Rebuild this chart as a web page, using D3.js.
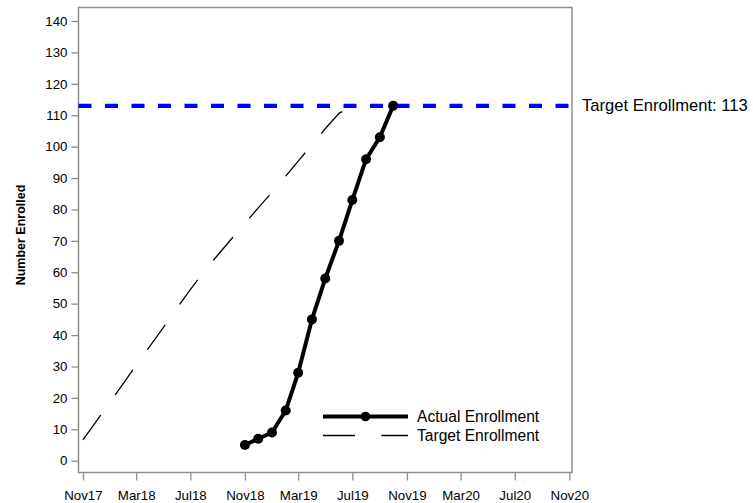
<!DOCTYPE html>
<html>
<head>
<meta charset="utf-8">
<script src="https://cdn.jsdelivr.net/npm/d3@7"></script>
<style>
  html, body { margin: 0; padding: 0; background: #fff; }
  svg { display: block; font-family: "Liberation Sans", Arial, sans-serif; }
</style>
</head>
<body>
<svg id="chart" width="753" height="503"></svg>
<script>
// ---- data ----
const actualDates = ["2018-11-01","2018-12-01","2019-01-01","2019-02-01","2019-03-01","2019-04-01",
                     "2019-05-01","2019-06-01","2019-07-01","2019-08-01","2019-09-01","2019-10-01"];
const actualValues = [5, 7, 9, 16, 28, 45, 58, 70, 83, 96, 103, 113];

const targetDates = ["2017-11-01","2017-12-01","2018-01-01","2018-02-01","2018-03-01","2018-04-01",
                     "2018-05-01","2018-06-01","2018-07-01","2018-08-01","2018-09-01","2018-10-01",
                     "2018-11-01","2018-12-01","2019-01-01","2019-02-01","2019-03-01","2019-04-01",
                     "2019-05-01","2019-06-01","2019-07-01"];
const targetValues = [6.6, 12.5, 18.7, 24.8, 30.4, 36.5, 42.4, 48.6, 54.5, 60.3, 65.5, 70.5,
                      75.6, 80.5, 85.5, 90.6, 95.4, 100.6, 105.7, 110.6, 113];

const targetEnrollment = 113;
const xTickDates = ["2017-11-01","2018-03-01","2018-07-01","2018-11-01","2019-03-01",
                    "2019-07-01","2019-11-01","2020-03-01","2020-07-01","2020-11-01"];
const yTickValues = [0,10,20,30,40,50,60,70,80,90,100,110,120,130,140];
const legendLabels = ["Actual Enrollment", "Target Enrollment"];
const yTitle = "Number Enrolled";

// ---- setup ----
const parse = d3.utcParse("%Y-%m-%d");
const fmt = d3.utcFormat("%b%y");
const svg = d3.select("#chart");

const pLeft = 78.5, pRight = 572, pTop = 7.5, pBottom = 472.5;

const x = d3.scaleUtc()
  .domain([d3.utcDay.offset(parse("2017-11-01"), -9.5), d3.utcDay.offset(parse("2020-11-01"), 6.8)])
  .range([pLeft, pRight]);
const y = d3.scaleLinear()
  .domain([-3.75, 144.3])
  .range([pBottom, pTop]);

const gridColor = "#8f8f8f";

// frame
svg.append("rect")
  .attr("x", pLeft).attr("y", pTop)
  .attr("width", pRight - pLeft).attr("height", pBottom - pTop)
  .attr("fill", "none").attr("stroke", gridColor).attr("stroke-width", 1.5);

// y axis
const yAxis = svg.append("g")
  .attr("transform", `translate(${pLeft},0)`)
  .call(d3.axisLeft(y).tickValues(yTickValues).tickSize(7).tickPadding(4));
yAxis.select(".domain").remove();
yAxis.selectAll(".tick line").attr("stroke", gridColor).attr("stroke-width", 1.3);
yAxis.selectAll(".tick text")
  .attr("fill", "#000").style("font-size", "13.3px")
  .style("font-family", "'Liberation Sans', Arial, sans-serif");

// x axis
const xAxis = svg.append("g")
  .attr("transform", `translate(0,${pBottom})`)
  .call(d3.axisBottom(x).tickValues(xTickDates.map(parse)).tickFormat(fmt).tickSize(8));
xAxis.select(".domain").remove();
xAxis.selectAll(".tick line").attr("stroke", gridColor).attr("stroke-width", 1.3);
xAxis.selectAll(".tick text")
  .attr("fill", "#000").attr("y", 27.5).attr("dy", null)
  .style("font-size", "13.3px")
  .style("font-family", "'Liberation Sans', Arial, sans-serif");

// y title
svg.append("text")
  .attr("transform", `translate(25,235) rotate(-90)`)
  .attr("text-anchor", "middle")
  .style("font-size", "12.5px").style("font-weight", "bold")
  .text(yTitle);

// target enrollment reference line
svg.append("line")
  .attr("x1", pLeft).attr("x2", pRight)
  .attr("y1", y(targetEnrollment)).attr("y2", y(targetEnrollment))
  .attr("stroke", "#0000ff").attr("stroke-width", 4.3)
  .attr("stroke-dasharray", "13,13.5");
svg.append("text")
  .attr("x", 582).attr("y", y(targetEnrollment) + 5.5)
  .style("font-size", "16.6px")
  .text("Target Enrollment: " + targetEnrollment);

// target line
const targetData = targetDates.map((d, i) => ({ date: parse(d), value: targetValues[i] }));
const line = d3.line().x(d => x(d.date)).y(d => y(d.value));
svg.append("path")
  .datum(targetData)
  .attr("d", line)
  .attr("fill", "none").attr("stroke", "#000").attr("stroke-width", 1.3)
  .attr("stroke-dasharray", "30.5,25");

// actual line
const actualData = actualDates.map((d, i) => ({ date: parse(d), value: actualValues[i] }));
svg.append("path")
  .datum(actualData)
  .attr("d", line)
  .attr("fill", "none").attr("stroke", "#000").attr("stroke-width", 4)
  .attr("stroke-linejoin", "round");
svg.selectAll("circle.pt")
  .data(actualData)
  .join("circle")
  .attr("class", "pt")
  .attr("cx", d => x(d.date)).attr("cy", d => y(d.value))
  .attr("r", 5).attr("fill", "#000");

// legend
const lg = svg.append("g");
const lx1 = 323, lx2 = 408, ly = [416.5, 435.5];
lg.append("line").attr("x1", lx1).attr("x2", lx2).attr("y1", ly[0]).attr("y2", ly[0])
  .attr("stroke", "#000").attr("stroke-width", 4);
lg.append("circle").attr("cx", (lx1 + lx2) / 2).attr("cy", ly[0]).attr("r", 4.8).attr("fill", "#000");
lg.append("line").attr("x1", lx1).attr("x2", lx2).attr("y1", ly[1]).attr("y2", ly[1])
  .attr("stroke", "#000").attr("stroke-width", 1.3).attr("stroke-dasharray", "32,26.5");
legendLabels.forEach((t, i) => {
  lg.append("text").attr("x", 417).attr("y", ly[i] + 5.5)
    .style("font-size", "15.6px").text(t);
});
</script>
</body>
</html>
